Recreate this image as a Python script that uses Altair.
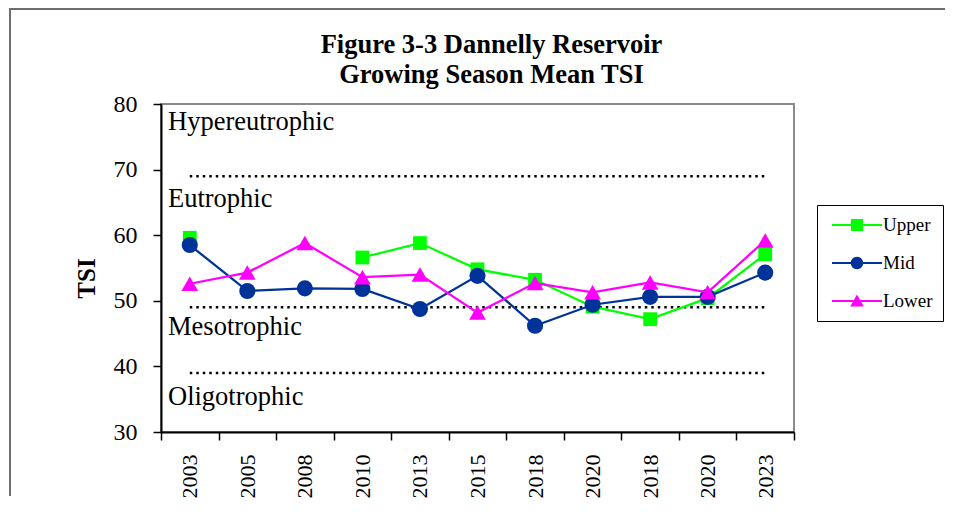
import altair as alt
import pandas as pd

# ---- data ----
years = ["2003", "2005", "2008", "2010", "2013", "2015", "2018", "2020", "2018", "2020", "2023"]
series = ["Upper", "Mid", "Lower"]
upper = [59.6, None, None, 56.6, 58.8, 54.8, 53.2, 49.1, 47.2, 50.4, 57.1]
mid = [58.5, 51.5, 51.9, 51.8, 48.75, 53.8, 46.2, 49.4, 50.6, 50.6, 54.3]
lower = [52.6, 54.3, 58.8, 53.6, 54.0, 48.2, 52.7, 51.3, 52.8, 51.3, 59.2]
colors = ["#00FF00", "#003399", "#FF00FF"]
shapes = ["square", "circle", "triangle-up"]
sizes = [190, 260, 280]

zone_names = ["Hypereutrophic", "Eutrophic", "Mesotrophic", "Oligotrophic"]
zone_label_y = [76.0, 64.3, 44.8, 34.1]
boundaries = [69, 49, 39]
y_ticks = [30, 40, 50, 60, 70, 80]

FONT = "Liberation Serif"

rows = []
for s, vals in zip(series, [upper, mid, lower]):
    for i, (yr, v) in enumerate(zip(years, vals)):
        rows.append({"i": i, "year": yr, "series": s, "tsi": v})
df = pd.DataFrame(rows)

bound_df = pd.DataFrame({"start": [0] * len(boundaries), "end": [len(years) - 1] * len(boundaries),
                         "tsi": boundaries})
zone_df = pd.DataFrame({"zone": zone_names, "tsi": zone_label_y})
one = pd.DataFrame({"k": [0]})

label_expr = "[" + ",".join(f"'{y}'" for y in years) + "][datum.value]"

x_scale = alt.Scale(type="band", paddingInner=0, paddingOuter=0)
x_axis = alt.Axis(title=None, labelExpr=label_expr, labelAngle=-90, tickBand="extent",
                  labelFont=FONT, labelFontSize=22, labelColor="black", labelPadding=14,
                  tickSize=8, tickColor="black", tickWidth=1.5, domainColor="black",
                  domainWidth=2, grid=False)
y_scale = alt.Scale(domain=[30, 80], nice=False, zero=False)
y_axis = alt.Axis(title="TSI", values=y_ticks, labelFont=FONT, labelFontSize=24,
                  labelColor="black", labelPadding=16, tickSize=8, tickColor="black",
                  tickWidth=1.5, domainColor="black", domainWidth=2, grid=False,
                  titleFont=FONT, titleFontSize=25, titleFontWeight="bold",
                  titleColor="black", titlePadding=14, titleY=174)

# legend symbols: a short line with the series marker (unit box, 10 px per unit)
LINE = "M-2.5,-0.11L2.5,-0.11L2.5,0.11L-2.5,0.11Z"
legend_paths = [
    LINE + "M-0.6,-0.6L0.6,-0.6L0.6,0.6L-0.6,0.6Z",
    LINE + "M-0.62,0A0.62,0.62,0,1,1,0.62,0A0.62,0.62,0,1,1,-0.62,0Z",
    LINE + "M0,-0.65L0.68,0.55L-0.68,0.55Z",
]

legend = alt.Legend(
    title=None, orient="none", legendX=656, legendY=101,
    strokeColor="black", padding=10, labelFont="Liberation Serif, serif", labelFontSize=19,
    labelColor="black", symbolSize=400, symbolStrokeWidth=0, symbolOffset=20, labelOffset=16,
    rowPadding=18, symbolOpacity=1, titlePadding=0,
)

x_enc = alt.X("i:O", scale=x_scale, axis=x_axis)
y_enc = alt.Y("tsi:Q", scale=y_scale, axis=y_axis)

# outer frame (top and left edges)
frame_top = alt.Chart(one).mark_rule(color="#6e6e6e", strokeWidth=2).encode(
    x=alt.value(-152), x2=alt.value(784), y=alt.value(-95))
frame_left = alt.Chart(one).mark_rule(color="#6e6e6e", strokeWidth=2).encode(
    x=alt.value(-151), y=alt.value(-95), y2=alt.value(392))

rules = alt.Chart(bound_df).mark_rule(color="black", strokeWidth=2.5, strokeDash=[2.5, 4]).encode(
    x=alt.X("start:O", scale=x_scale, axis=x_axis), x2="end:O", y=y_enc)

zones = alt.Chart(zone_df).mark_text(align="left", baseline="alphabetic", font=FONT,
                                     fontSize=26.5, color="black").encode(
    x=alt.value(7), y=y_enc, text="zone:N")

layers = [frame_top, frame_left, rules, zones]
for s, c, shp, sz in zip(series, colors, shapes, sizes):
    base = alt.Chart(df).transform_filter(alt.datum.series == s)
    layers.append(base.mark_line(strokeWidth=2.25, color=c).encode(x=x_enc, y=y_enc))
    layers.append(base.mark_point(shape=shp, filled=True, size=sz, opacity=1, color=c).encode(
        x=x_enc, y=y_enc))

# legend carrier (no rows drawn; legend comes from the scales)
legend_layer = alt.Chart(df).transform_filter("false").mark_point(filled=True, opacity=1).encode(
    x=x_enc, y=y_enc,
    color=alt.Color("series:N", scale=alt.Scale(domain=series, range=colors), legend=legend),
    shape=alt.Shape("series:N", scale=alt.Scale(domain=series, range=legend_paths), legend=legend),
)
layers.append(legend_layer)

chart = alt.layer(*layers).properties(
    width=633, height=328, padding=0,
    title=alt.Title(text=["Figure 3-3 Dannelly Reservoir", "Growing Season Mean TSI"],
                    font=FONT, fontSize=26.5, fontWeight="bold", color="black",
                    anchor="middle", frame="group", dx=14, offset=-80, lineHeight=30),
).configure(font=FONT).configure_view(stroke="#8a8a8a", strokeWidth=2).configure_legend(
    labelFont="Liberation Serif, serif", labelFontSize=19, labelColor="black", titlePadding=0)

chart.save("out.html", embed_options={"renderer": "svg", "actions": False})
